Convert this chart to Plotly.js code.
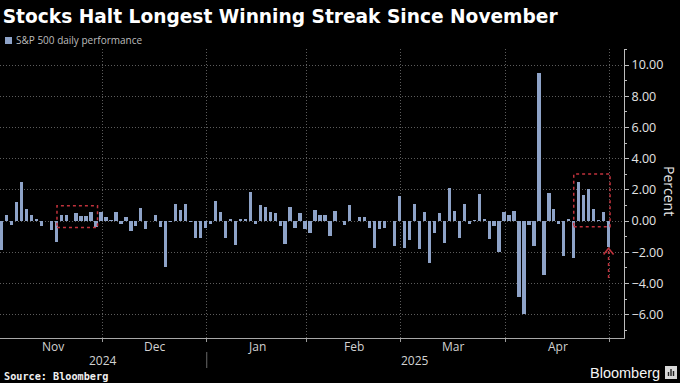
<!DOCTYPE html>
<html>
<head>
<meta charset="utf-8">
<script src="https://cdn.plot.ly/plotly-3.0.1.min.js"></script>
<style>
  html, body { margin: 0; padding: 0; background: #000; }
  #chart { width: 680px; height: 383px; }
</style>
</head>
<body>
<div id="chart"></div>
<script>
// ---- Data (S&P 500 daily % change, trading days) ----
const dates = [
  "2024-10-31",
  "2024-11-01","2024-11-04","2024-11-05","2024-11-06","2024-11-07","2024-11-08","2024-11-11","2024-11-12","2024-11-13","2024-11-14",
  "2024-11-15","2024-11-18","2024-11-19","2024-11-20","2024-11-21","2024-11-22","2024-11-25","2024-11-26","2024-11-27","2024-11-29",
  "2024-12-02","2024-12-03","2024-12-04","2024-12-05","2024-12-06","2024-12-09","2024-12-10","2024-12-11","2024-12-12","2024-12-13",
  "2024-12-16","2024-12-17","2024-12-18","2024-12-19","2024-12-20","2024-12-23","2024-12-24","2024-12-26","2024-12-27","2024-12-30","2024-12-31",
  "2025-01-02","2025-01-03","2025-01-06","2025-01-07","2025-01-08","2025-01-10","2025-01-13","2025-01-14","2025-01-15","2025-01-16",
  "2025-01-17","2025-01-21","2025-01-22","2025-01-23","2025-01-24","2025-01-27","2025-01-28","2025-01-29","2025-01-30","2025-01-31",
  "2025-02-03","2025-02-04","2025-02-05","2025-02-06","2025-02-07","2025-02-10","2025-02-11","2025-02-12","2025-02-13","2025-02-14",
  "2025-02-18","2025-02-19","2025-02-20","2025-02-21","2025-02-24","2025-02-25","2025-02-26","2025-02-27","2025-02-28",
  "2025-03-03","2025-03-04","2025-03-05","2025-03-06","2025-03-07","2025-03-10","2025-03-11","2025-03-12","2025-03-13","2025-03-14",
  "2025-03-17","2025-03-18","2025-03-19","2025-03-20","2025-03-21","2025-03-24","2025-03-25","2025-03-26","2025-03-27","2025-03-28","2025-03-31",
  "2025-04-01","2025-04-02","2025-04-03","2025-04-04","2025-04-07","2025-04-08","2025-04-09","2025-04-10","2025-04-11","2025-04-14",
  "2025-04-15","2025-04-16","2025-04-17","2025-04-21","2025-04-22","2025-04-23","2025-04-24","2025-04-25","2025-04-28","2025-04-29","2025-04-30"
];
const values = [
  -1.86,
  0.41, -0.28, 1.23, 2.53, 0.74, 0.38, 0.10, -0.29, 0.02, -0.60,
  -1.32, 0.39, 0.40, 0.01, 0.53, 0.35, 0.30, 0.57, -0.38, 0.56,
  0.24, 0.05, 0.61, -0.19, 0.25, -0.61, -0.30, 0.82, -0.54, -0.01,
  0.38, -0.39, -2.95, -0.09, 1.09, 0.73, 1.10, -0.04, -1.11, -1.07, -0.43,
  -0.22, 1.26, 0.55, -1.11, 0.16, -1.54, 0.16, 0.11, 1.83, -0.21,
  1.00, 0.88, 0.61, 0.53, -0.29, -1.46, 0.92, -0.47, 0.53, -0.50,
  -0.76, 0.72, 0.39, 0.36, -0.95, 0.67, 0.03, -0.27, 1.04, -0.01,
  0.24, 0.24, -0.43, -1.71, -0.50, -0.47, 0.01, -1.59, 1.59,
  -1.76, -1.22, 1.12, -1.78, 0.55, -2.70, -0.76, 0.49, -1.39, 2.13,
  0.64, -1.07, 1.08, -0.22, 0.08, 1.76, 0.16, -1.12, -0.33, -1.97, 0.55,
  0.38, 0.67, -4.84, -5.97, -0.23, -1.57, 9.52, -3.46, 1.81, 0.79,
  -0.17, -2.24, 0.13, -2.36, 2.51, 1.67, 2.03, 0.74, 0.06, 0.58, -1.65
];
const monthNames = ["Nov", "Dec", "Jan", "Feb", "Mar", "Apr"];
const yearLabels = ["2024", "2025"];
const yTickVals = [-6, -4, -2, 0, 2, 4, 6, 8, 10];
const seriesName = "S&P 500 daily performance";
const chartTitle = "Stocks Halt Longest Winning Streak Since November";
const yTitle = "Percent";
const sourceText = "Source: Bloomberg";
const brandText = "Bloomberg";

// ---- Derived positions ----
const xIdx = dates.map((d, i) => i);
const idxOf = d => dates.indexOf(d);
const xMin = -0.3, xMax = 125.1;
const boundaries = [];
let yearSplit = null;
for (let i = 0; i < dates.length; i++) {
  if (i === dates.length - 1 || dates[i].slice(0, 7) !== dates[i + 1].slice(0, 7)) {
    boundaries.push(i + 0.25);
    if (i < dates.length - 1 && dates[i].slice(0, 4) !== dates[i + 1].slice(0, 4)) yearSplit = i + 0.25;
  }
}
const monthCenters = [];
for (let k = 0; k < boundaries.length - 1; k++) monthCenters.push((boundaries[k] + boundaries[k + 1]) / 2);
const yearCenters = [(xMin + yearSplit) / 2, (yearSplit + xMax) / 2];

const PW = 624, PT = 49, PB = 338, PH = PB - PT;
const px = p => p / PW;
const py = p => (PB - p) / PH;

const labelFont = { family: "Open Sans, Liberation Sans, sans-serif", size: 12, color: "#d2d2d2" };
const red = "#c0323c";

const annotations = [];
monthNames.forEach((m, k) => annotations.push({
  text: m, x: monthCenters[k], xref: "x", y: py(346), yref: "paper",
  xanchor: "center", yanchor: "middle", showarrow: false, font: labelFont
}));
yearLabels.forEach((t, k) => annotations.push({
  text: t, x: yearCenters[k], xref: "x", y: py(360), yref: "paper",
  xanchor: "center", yanchor: "middle", showarrow: false, font: labelFont
}));
annotations.push({
  text: seriesName, x: px(14), xref: "paper", y: py(40), yref: "paper",
  xanchor: "left", yanchor: "middle", showarrow: false,
  font: { family: "Open Sans, sans-serif", size: 10, color: "#bdbdbd" }
});
annotations.push({
  text: yTitle, x: px(670), xref: "paper", y: py(191), yref: "paper",
  xanchor: "center", yanchor: "middle", showarrow: false, textangle: 90,
  font: { family: "Open Sans, sans-serif", size: 14, color: "#e6e6e6" }
});
annotations.push({
  text: "<b>" + sourceText + "</b>", x: px(2), xref: "paper", y: py(376), yref: "paper",
  xanchor: "left", yanchor: "middle", showarrow: false,
  font: { family: "DejaVu Sans Mono, monospace", size: 10.2, color: "#f0f0f0" }
});
annotations.push({
  text: brandText, x: px(662), xref: "paper", y: py(373), yref: "paper",
  xanchor: "right", yanchor: "middle", showarrow: false,
  font: { family: "Liberation Sans, Arial, sans-serif", size: 14.5, color: "#f4f4f4" }
});

const arrowX = idxOf("2025-04-30");
const shapes = [
  // legend swatch
  { type: "rect", xref: "paper", yref: "paper", x0: px(5), x1: px(12), y0: py(44), y1: py(37),
    fillcolor: "#8ea3c8", line: { width: 0 } },
  // year separator
  { type: "line", xref: "x", yref: "paper", x0: yearSplit, x1: yearSplit, y0: py(352), y1: py(368),
    line: { color: "#6a6a6a", width: 1 } },
  // November streak box
  { type: "rect", xref: "x", yref: "y", x0: idxOf("2024-11-15") + 0.15, x1: idxOf("2024-11-27") + 0.3,
    y0: -0.42, y1: 0.98, line: { color: red, width: 1.5, dash: "dot" } },
  // April streak box
  { type: "rect", xref: "x", yref: "y", x0: idxOf("2025-04-21") + 0.0, x1: idxOf("2025-04-30") + 0.3,
    y0: -0.37, y1: 3.01, line: { color: red, width: 1.5, dash: "dot" } },
  // arrow shaft
  { type: "line", xref: "x", yref: "y", x0: arrowX, x1: arrowX, y0: -3.65, y1: -1.8,
    line: { color: red, width: 1.5, dash: "dot" } },
  // arrow head
  { type: "path", xref: "x", yref: "y",
    path: `M ${arrowX - 1} -2.15 L ${arrowX} -1.75 L ${arrowX + 1} -2.15`,
    line: { color: red, width: 1.5 } },
  // brand icon
  { type: "rect", xref: "paper", yref: "paper", x0: px(665), x1: px(677), y0: py(379), y1: py(366),
    fillcolor: "#d8d8d8", line: { width: 0 } },
  { type: "line", xref: "paper", yref: "paper", x0: px(668.5), x1: px(668.5), y0: py(376), y1: py(372), line: { color: "#222", width: 1.4 } },
  { type: "line", xref: "paper", yref: "paper", x0: px(671), x1: px(671), y0: py(376), y1: py(369), line: { color: "#222", width: 1.4 } },
  { type: "line", xref: "paper", yref: "paper", x0: px(673.5), x1: px(673.5), y0: py(376), y1: py(371), line: { color: "#222", width: 1.4 } }
];

const trace = {
  type: "bar", x: xIdx, y: values, name: seriesName,
  marker: { color: "#8ea3c8", line: { width: 0 } },
  width: 0.66, hoverinfo: "skip", showlegend: false
};

const layout = {
  width: 680, height: 383,
  margin: { l: 0, r: 680 - PW, t: PT, b: 383 - PB, pad: 0 },
  paper_bgcolor: "#000", plot_bgcolor: "#000",
  showlegend: false,
  bargap: 0,
  title: {
    text: "<b>" + chartTitle + "</b>", xref: "container", yref: "container",
    x: 0.004, xanchor: "left", y: 1 - 16 / 383, yanchor: "middle",
    font: { family: "DejaVu Sans, sans-serif", size: 18.6, color: "#ffffff" }
  },
  xaxis: {
    range: [xMin, xMax], tickmode: "array", tickvals: boundaries.slice(1), ticktext: boundaries.slice(1).map(() => ""),
    showticklabels: false, ticks: "outside", ticklen: 3, tickcolor: "#9a9a9a",
    showgrid: true, gridcolor: "#5c5c5c", griddash: "1px,2px", gridwidth: 1,
    showline: true, linecolor: "#a8a8a8", linewidth: 1, zeroline: false, fixedrange: true
  },
  yaxis: {
    side: "right", range: [-7.5, 11.03], tickmode: "array", tickvals: yTickVals,
    tickformat: ".2f", ticks: "outside", ticklen: 4, tickcolor: "#bdbdbd",
    minor: { dtick: 1, tick0: 0, ticks: "outside", ticklen: 2, tickcolor: "#bdbdbd", showgrid: false },
    showgrid: true, gridcolor: "#5c5c5c", griddash: "1px,2px", gridwidth: 1,
    showline: true, linecolor: "#bdbdbd", linewidth: 1, zeroline: false, fixedrange: true,
    tickfont: { family: "Open Sans, Liberation Sans, sans-serif", size: 12.5, color: "#e4e4e4" }
  },
  annotations: annotations,
  shapes: shapes
};

Plotly.newPlot("chart", [trace], layout, { displayModeBar: false, staticPlot: true });
</script>
</body>
</html>
